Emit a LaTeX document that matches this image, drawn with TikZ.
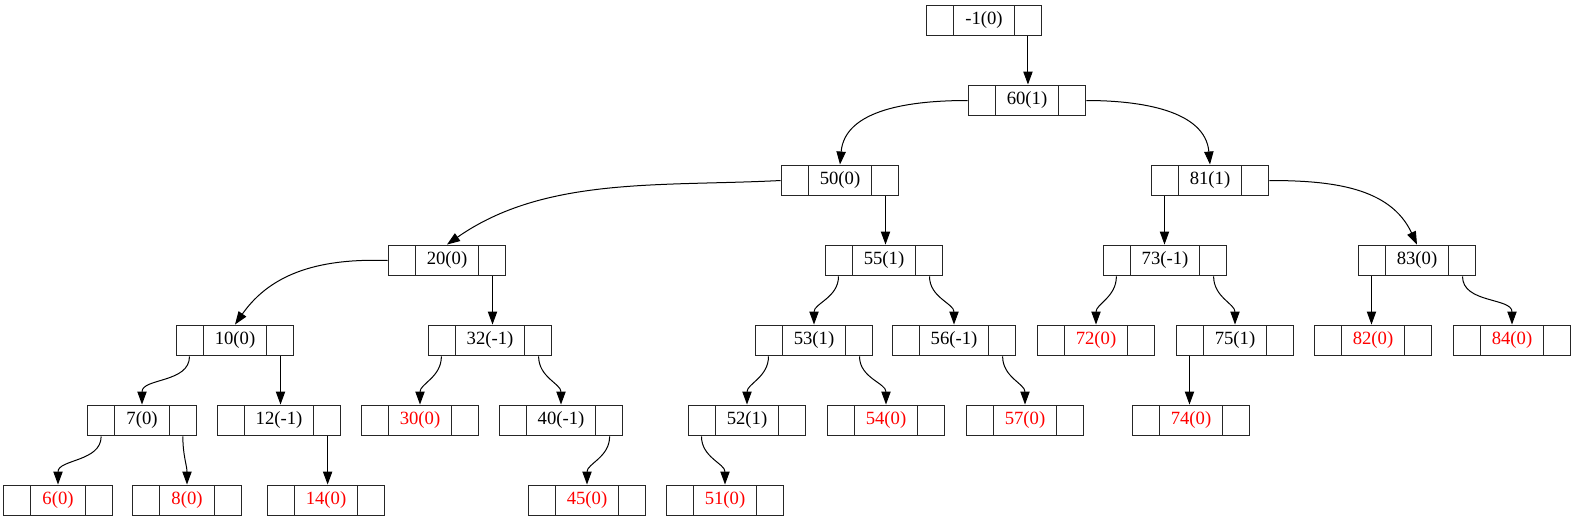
\documentclass[tikz,border=0pt]{standalone}
\usepackage{fontspec}
\setmainfont{Liberation Serif}
\usetikzlibrary{shapes.multipart,arrows.meta}

\begin{document}
\begin{tikzpicture}[x=1pt,y=-1pt]
            \tikzset{rec/.style = {rectangle split, rectangle split horizontal, rectangle split parts=3,
                    rectangle split empty part width=0pt, draw=black!85, line width=1pt, inner xsep=11pt, inner ysep=7pt,
                    font=\fontsize{18.67}{20}\selectfont}}
            \tikzset{leaf/.style = {text=red}}
            \tikzset{link/.style = {draw=black, line width=1pt, -{Triangle[length=13pt,width=9.3pt]}}}
            \useasboundingbox (0,0) rectangle (1575,523);
            % vertices
            \node[rec] (root) at (984,20.5) {\nodepart{two}-1(0)\nodepart{three}};
            \node[rec] (n60) at (1027,100.5) {\nodepart{two}60(1)\nodepart{three}};
            \node[rec] (n50) at (840,180.5) {\nodepart{two}50(0)\nodepart{three}};
            \node[rec] (n81) at (1210,180.5) {\nodepart{two}81(1)\nodepart{three}};
            \node[rec] (n20) at (447,260.5) {\nodepart{two}20(0)\nodepart{three}};
            \node[rec] (n55) at (884,260.5) {\nodepart{two}55(1)\nodepart{three}};
            \node[rec] (n73) at (1165,260.5) {\nodepart{two}73(-1)\nodepart{three}};
            \node[rec] (n83) at (1417,260.5) {\nodepart{two}83(0)\nodepart{three}};
            \node[rec] (n10) at (235,340.5) {\nodepart{two}10(0)\nodepart{three}};
            \node[rec] (n32) at (490,340.5) {\nodepart{two}32(-1)\nodepart{three}};
            \node[rec] (n53) at (814,340.5) {\nodepart{two}53(1)\nodepart{three}};
            \node[rec] (n56) at (954,340.5) {\nodepart{two}56(-1)\nodepart{three}};
            \node[rec,leaf] (n72) at (1096,340.5) {\nodepart{two}72(0)\nodepart{three}};
            \node[rec] (n75) at (1235,340.5) {\nodepart{two}75(1)\nodepart{three}};
            \node[rec,leaf] (n82) at (1373,340.5) {\nodepart{two}82(0)\nodepart{three}};
            \node[rec,leaf] (n84) at (1512,340.5) {\nodepart{two}84(0)\nodepart{three}};
            \node[rec] (n7) at (142,420.5) {\nodepart{two}7(0)\nodepart{three}};
            \node[rec] (n12) at (279,420.5) {\nodepart{two}12(-1)\nodepart{three}};
            \node[rec,leaf] (n30) at (420,420.5) {\nodepart{two}30(0)\nodepart{three}};
            \node[rec] (n40) at (561,420.5) {\nodepart{two}40(-1)\nodepart{three}};
            \node[rec] (n52) at (747,420.5) {\nodepart{two}52(1)\nodepart{three}};
            \node[rec,leaf] (n54) at (886,420.5) {\nodepart{two}54(0)\nodepart{three}};
            \node[rec,leaf] (n57) at (1025,420.5) {\nodepart{two}57(0)\nodepart{three}};
            \node[rec,leaf] (n74) at (1191,420.5) {\nodepart{two}74(0)\nodepart{three}};
            \node[rec,leaf] (n6) at (58,500.5) {\nodepart{two}6(0)\nodepart{three}};
            \node[rec,leaf] (n8) at (187,500.5) {\nodepart{two}8(0)\nodepart{three}};
            \node[rec,leaf] (n14) at (326,500.5) {\nodepart{two}14(0)\nodepart{three}};
            \node[rec,leaf] (n45) at (587,500.5) {\nodepart{two}45(0)\nodepart{three}};
            \node[rec,leaf] (n51) at (725,500.5) {\nodepart{two}51(0)\nodepart{three}};
            % edges
            \draw[link] (root.three south) -- (root.three south |- n60.north);
            \draw[link] (n60.west) to[out=180,in=85] (n50.two north);
            \draw[link] (n60.east) to[out=0,in=95] (n81.two north);
            \draw[link] (n50.west) to[out=183,in=35,looseness=0.9] (n20.two north);
            \draw[link] (n50.three south) -- (n50.three south |- n55.north);
            \draw[link] (n81.one south) -- (n81.one south |- n73.north);
            \draw[link] (n81.east) to[out=0,in=115] (n83.two north);
            \draw[link] (n20.west) to[out=178,in=55] (n10.two north);
            \draw[link] (n20.three south) -- (n20.three south |- n32.north);
            \draw[link] (n55.one south) to[out=-90,in=90] (n53.two north);
            \draw[link] (n55.three south) to[out=-90,in=90] (n56.two north);
            \draw[link] (n73.one south) to[out=-90,in=90] (n72.two north);
            \draw[link] (n73.three south) to[out=-90,in=90] (n75.two north);
            \draw[link] (n83.one south) -- (n83.one south |- n82.north);
            \draw[link] (n83.three south) to[out=-90,in=90] (n84.two north);
            \draw[link] (n10.one south) to[out=-90,in=90] (n7.two north);
            \draw[link] (n10.three south) -- (n10.three south |- n12.north);
            \draw[link] (n32.one south) to[out=-90,in=90] (n30.two north);
            \draw[link] (n32.three south) to[out=-90,in=90] (n40.two north);
            \draw[link] (n53.one south) to[out=-90,in=90] (n52.two north);
            \draw[link] (n53.three south) to[out=-90,in=90] (n54.two north);
            \draw[link] (n56.three south) to[out=-90,in=90] (n57.two north);
            \draw[link] (n75.one south) -- (n75.one south |- n74.north);
            \draw[link] (n7.one south) to[out=-90,in=90] (n6.two north);
            \draw[link] (n7.three south) to[out=-90,in=90] (n8.two north);
            \draw[link] (n12.three south) -- (n12.three south |- n14.north);
            \draw[link] (n40.three south) to[out=-90,in=90] (n45.two north);
            \draw[link] (n52.one south) to[out=-90,in=90] (n51.two north);
        \end{tikzpicture}
\end{document}
